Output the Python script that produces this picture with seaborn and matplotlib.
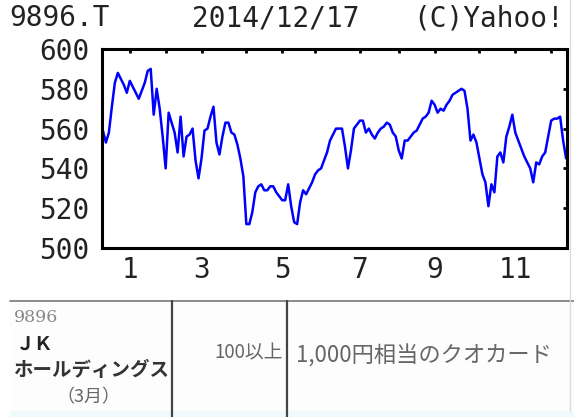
import matplotlib
matplotlib.use("Agg")
import matplotlib.pyplot as plt
import seaborn as sns
import numpy as np
import pandas as pd

# ---- data ----
prices = [
    559, 553, 558, 571, 583, 588, 585, 582, 578, 584,
    581, 578, 575, 579, 583, 589, 590, 567, 580, 570,
    556, 540, 568, 563, 558, 548, 566, 546, 556, 557,
    560, 544, 535, 545, 559, 560, 566, 571, 553, 547,
    556, 563, 563, 558, 557, 552, 545, 536, 512, 512,
    518, 528, 531, 532, 529, 529, 531, 531, 528, 526,
    524, 524, 532, 521, 513, 512, 523, 529, 527, 530,
    533, 537, 539, 540, 544, 548, 554, 557, 560, 560,
    560, 551, 540, 549, 560, 562, 564, 564, 558, 560,
    557, 555, 558, 560, 561, 563, 562, 558, 556, 549,
    545, 554, 554, 556, 558, 559, 562, 565, 566, 568,
    574, 572, 568, 570, 569, 572, 574, 577, 578, 579,
    580, 579, 570, 554, 557, 553, 545, 537, 533, 521,
    532, 528, 546, 548, 543, 556, 561, 567, 558, 554,
    550, 546, 543, 540, 533, 543, 542, 546, 548, 556,
    564, 565, 565, 566, 554, 545,
]
month_start_idx = [9, 21, 33, 48, 60, 71, 86, 99, 111, 126, 138, 150]
month_labels = ["1", "", "3", "", "5", "", "7", "", "9", "", "11", ""]
y_ticks = [500, 520, 540, 560, 580, 600]

ticker = "9896.T"
date_str = "2014/12/17"
credit = "(C)Yahoo!"

tbl_code = "9896"
tbl_name1 = "ＪＫ"
tbl_name2 = "ホールディングス"
tbl_month = "（3月）"
tbl_shares = "100以上"
tbl_benefit = "1,000円相当のクオカード"

df = pd.DataFrame({"session": np.arange(len(prices)), "price": prices})

# ---- figure ----
sns.set_style("white")
plt.rcParams["font.family"] = ["DejaVu Sans Mono", "DejaVu Sans"]
W, H = 574, 417
fig = plt.figure(figsize=(W / 100, H / 100), dpi=100)
fig.patch.set_facecolor("white")

# background canvas in pixel coordinates for header text and table
bg = fig.add_axes([0, 0, 1, 1], zorder=0)
bg.set_xlim(0, W)
bg.set_ylim(H, 0)
bg.axis("off")

ax = fig.add_axes([102 / W, 1 - 248 / H, (567 - 102) / W, (248 - 49) / H], zorder=2)
sns.lineplot(data=df, x="session", y="price", ax=ax, color="#0000ff",
             linewidth=1.8, legend=False)
ax.set_xlim(-0.3, len(prices) - 1 + 0.3)
ax.set_ylim(500, 600)
ax.set_xticks(month_start_idx)
ax.set_xticklabels(month_labels)
ax.set_yticks(y_ticks)
ax.set_yticklabels([str(v) for v in y_ticks])
ax.set_xlabel("")
ax.set_ylabel("")
for s in ax.spines.values():
    s.set_visible(True)
    s.set_color("black")
    s.set_linewidth(2.2)
ax.tick_params(axis="both", direction="in", length=3, width=2, color="black",
               top=True, right=True, labelsize=20, labelcolor="#222222")
ax.tick_params(axis="y", pad=9)
ax.tick_params(axis="x", pad=6)
ax.set_facecolor("white")

# header
hdr_kw = dict(fontsize=20, color="#222222", va="baseline", ha="left",
              family=["DejaVu Sans Mono"])
bg.text(9, 26, ticker, **hdr_kw)
bg.text(192, 26, date_str, **hdr_kw)
bg.text(413, 26, credit, **hdr_kw)

# table below the chart
bg.add_patch(plt.Rectangle((10, 301), 564, 110, facecolor="#fdfdfd", edgecolor="none"))
bg.add_patch(plt.Rectangle((10, 411), 564, 6, facecolor="#eefafb", edgecolor="none"))
bg.plot([10, 574], [301, 301], color="#777777", lw=1.2)
bg.plot([172, 172], [301, 417], color="#444444", lw=1.6)
bg.plot([287, 287], [301, 417], color="#444444", lw=1.6)
bg.plot([570, 570], [0, 411], color="#dddddd", lw=1.0)

jp = ["Noto Sans CJK JP", "DejaVu Sans"]
bg.text(14, 318, tbl_code, fontsize=12.5, color="#888888", va="center", ha="left",
        family=["DejaVu Serif"])
bg.text(16, 345, tbl_name1, fontsize=13.5, color="#222222", va="center", ha="left",
        family=jp, fontweight="bold")
bg.text(13, 370, tbl_name2, fontsize=14, color="#333333", va="center", ha="left",
        family=jp, fontweight="bold")
bg.text(88, 397, tbl_month, fontsize=13, color="#666666", va="center", ha="center",
        family=jp)
bg.text(283, 353, tbl_shares, fontsize=13.5, color="#666666", va="center", ha="right",
        family=jp)
bg.text(296, 356, tbl_benefit, fontsize=16, color="#666666", va="center", ha="left",
        family=jp)

fig.savefig("out.png", dpi=100)
